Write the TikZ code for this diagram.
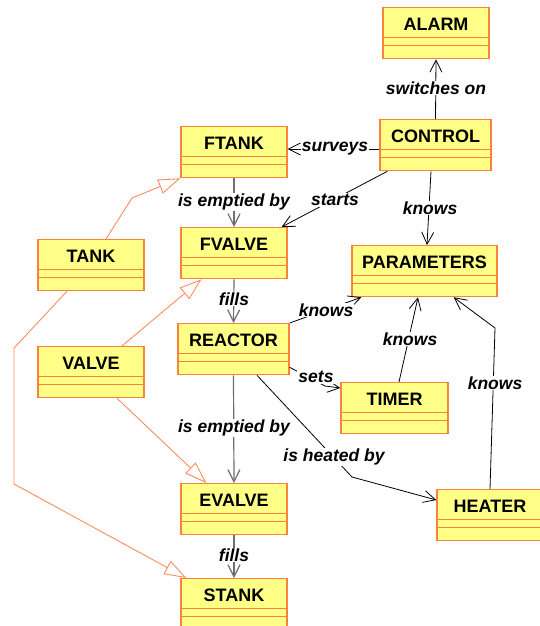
\documentclass[tikz,border=0pt]{standalone}
\usepackage{fontspec}
\setmainfont{Liberation Sans}
\usetikzlibrary{arrows.meta}
\definecolor{boxfill}{RGB}{255,255,136}
\definecolor{boxline}{RGB}{250,130,60}
\definecolor{genline}{RGB}{255,140,90}
\definecolor{assocgray}{RGB}{110,110,110}
\tikzset{
  cls/.style={draw=boxline, fill=boxfill, line width=1.3pt, rectangle, anchor=north,
    inner xsep=0pt, inner ysep=0pt, text height=23pt, text depth=28pt, minimum width=#1,
    font=\fontsize{18}{18}\selectfont\bfseries,
    path picture={\draw[boxline, line width=1pt]
      ([yshift=-30pt]path picture bounding box.north west) -- ([yshift=-30pt]path picture bounding box.north east)
      ([yshift=-38pt]path picture bounding box.north west) -- ([yshift=-38pt]path picture bounding box.north east);}},
  cls/.default=106pt,
  assoc/.style={draw=black, line width=0.8pt, -{Straight Barb[length=12pt,width=12pt]}},
  vassoc/.style={assoc, draw=assocgray, line width=1.2pt},
  gen/.style={draw=genline, line width=0.9pt, -{Triangle[open, length=22pt, width=15pt, fill=white]}},
  lbl/.style={font=\fontsize{17.5}{17.5}\selectfont\bfseries\itshape, fill=white, inner sep=1pt}
}
\begin{document}
\begin{tikzpicture}[x=1pt,y=-1pt]
\useasboundingbox (0,0) rectangle (540,626);
\fill[white] (0,0) rectangle (540,626);
% classes
\node[cls] (alarm) at (436,7) {ALARM};
\node[cls=111pt] (control) at (435.5,119) {CONTROL};
\node[cls] (ftank) at (234,126) {FTANK};
\node[cls] (fvalve) at (234,227) {FVALVE};
\node[cls] (tank) at (91,239) {TANK};
\node[cls] (valve) at (91,346) {VALVE};
\node[cls=145pt] (params) at (424.5,245) {PARAMETERS};
\node[cls=111pt] (reactor) at (233.5,323) {REACTOR};
\node[cls=107pt] (timer) at (394.5,382) {TIMER};
\node[cls] (evalve) at (234,483) {EVALVE};
\node[cls] (heater) at (490,489) {HEATER};
\node[cls] (stank) at (234,578) {STANK};
% bend points
\coordinate (hbend) at (495,328);
\coordinate (sbend) at (325,386);
\coordinate (rbend) at (352,477);
\coordinate (tb1) at (132,198);
\coordinate (tb2) at (14,348);
\coordinate (tb3) at (14,484);
% associations
\draw[assoc] (control.north) -- (alarm.south);
\draw[assoc] ([yshift=-30pt]control.north west) -- ([yshift=-23pt]ftank.north east);
\draw[vassoc] (ftank.south) -- (fvalve.north);
\draw[assoc] ([xshift=8pt]control.south west) -- ([xshift=-6pt]fvalve.north east);
\draw[assoc] ([xshift=-4.5pt]control.south) -- ([xshift=2.5pt]params.north);
\draw[vassoc] (fvalve.south) -- (reactor.north);
\draw[assoc] (reactor.north east) -- ([xshift=10pt]params.south west);
\draw[assoc] ([xshift=4.5pt]timer.north) -- ([xshift=-6.5pt]params.south);
\draw[assoc] (heater.north) -- (hbend) -- ([xshift=-44pt]params.south east);
\draw[assoc] ([yshift=8pt]reactor.south east) -- (sbend) -- ([yshift=-6pt]timer.north west);
\draw[vassoc] (reactor.south) -- (evalve.north);
\draw[assoc] ([xshift=23.5pt]reactor.south) -- (rbend) -- ([yshift=-11pt]heater.north west);
\draw[vassoc] (evalve.south) -- (stank.north);
% generalizations
\draw[gen] ([xshift=15pt]tank.north) -- (tb1) -- (ftank.south west);
\draw[gen] ([xshift=-24pt]tank.south) -- (tb2) -- (tb3) -- ([xshift=6pt]stank.north west);
\draw[gen] ([xshift=31pt]valve.north) -- ([xshift=21pt]fvalve.south west);
\draw[gen] ([xshift=26pt]valve.south) -- ([xshift=26pt]evalve.north west);
% labels
\node[lbl] (l1) at (436,88) {switches on};
\node[lbl] (l2) at (335,149) {surveys};
\node[lbl] (l3) at (234,202) {is emptied by};
\node[lbl] (l4) at (335,200) {starts};
\node[lbl] (l5) at (430,208) {knows};
\node[lbl] (l6) at (234,299) {fills};
\node[lbl] (l7) at (326,310) {knows};
\node[lbl] (l8) at (410,339) {knows};
\node[lbl] (l9) at (316,377) {sets};
\node[lbl] (l10) at (234,428) {is emptied by};
\node[lbl] (l11) at (334,457) {is heated by};
\node[lbl] (l12) at (495,383) {knows};
\node[lbl] (l13) at (234,555) {fills};
\end{tikzpicture}
\end{document}
